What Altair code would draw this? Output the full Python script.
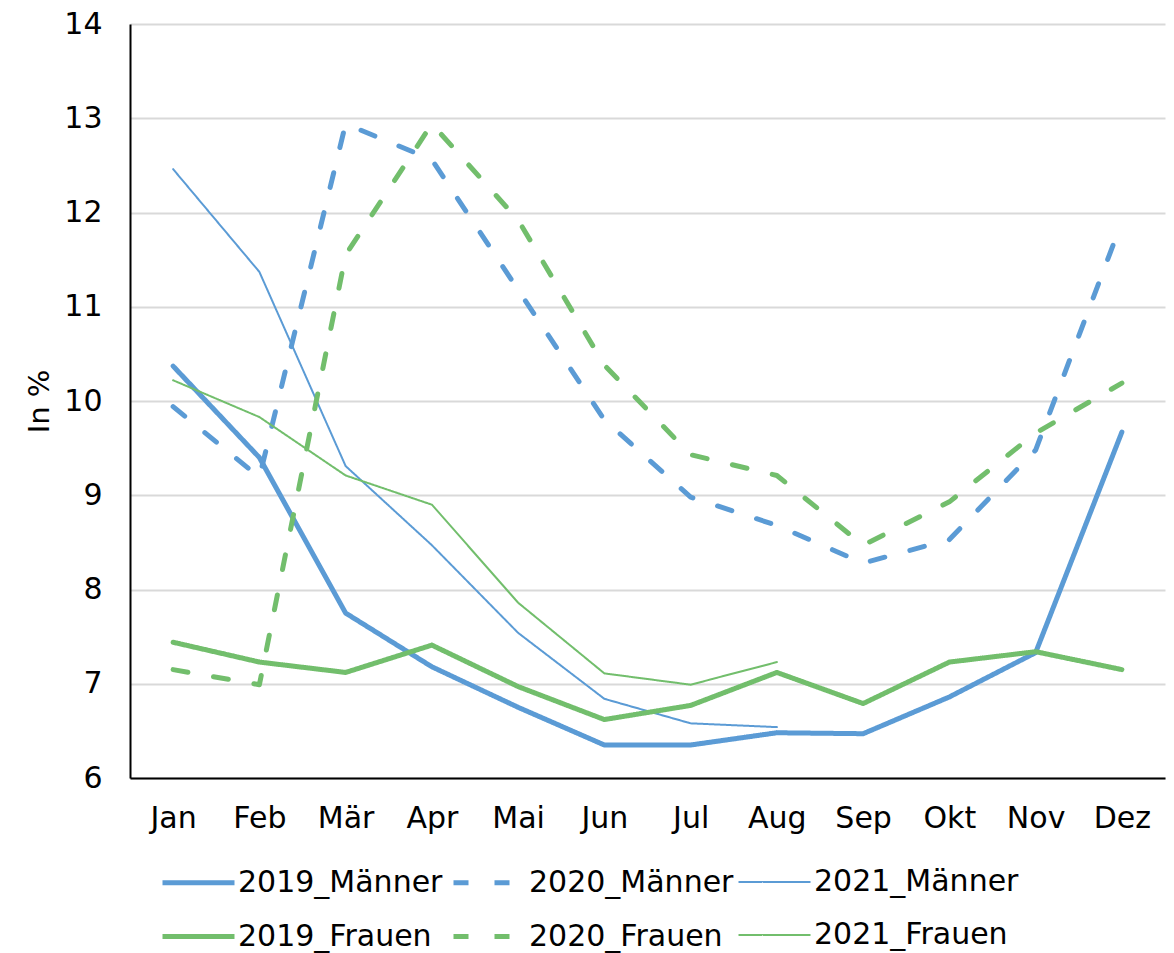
import altair as alt
import pandas as pd

months = ["Jan", "Feb", "Mär", "Apr", "Mai", "Jun", "Jul", "Aug", "Sep", "Okt", "Nov", "Dez"]

m2019 = [10.37, 9.40, 7.75, 7.18, 6.75, 6.35, 6.35, 6.48, 6.47, 6.86, 7.33, 9.67]
m2020 = [9.94, 9.19, 12.94, 12.56, 11.18, 9.80, 8.98, 8.68, 8.28, 8.53, 9.48, 11.90]
m2021 = [12.46, 11.37, 9.31, 8.47, 7.54, 6.84, 6.58, 6.54]
f2019 = [7.44, 7.23, 7.12, 7.41, 6.97, 6.62, 6.77, 7.12, 6.79, 7.23, 7.34, 7.15]
f2020 = [7.15, 6.99, 11.55, 12.94, 11.92, 10.38, 9.43, 9.21, 8.47, 8.93, 9.66, 10.19]
f2021 = [10.22, 9.83, 9.21, 8.90, 7.86, 7.11, 6.99, 7.23]

series_names = ["2019_Männer", "2020_Männer", "2021_Männer",
                "2019_Frauen", "2020_Frauen", "2021_Frauen"]
series_values = [m2019, m2020, m2021, f2019, f2020, f2021]

BLUE = "#5B9BD5"
GREEN = "#72BE6C"
colors = [BLUE, BLUE, BLUE, GREEN, GREEN, GREEN]
dashes = [[1, 0], [15, 26], [1, 0], [1, 0], [15, 26], [1, 0]]
widths = [5, 5, 2, 5, 5, 2]

rows = []
for name, vals in zip(series_names, series_values):
    for m, v in zip(months, vals):
        rows.append({"month": m, "value": v, "series": name})
df = pd.DataFrame(rows)

FONT = "DejaVu Sans"

legend = alt.Legend(
    title=None, orient="none", legendX=30, legendY=820,
    direction="horizontal", columns=3, symbolType="stroke",
    symbolSize=5184, labelFontSize=30, labelFont=FONT, labelColor="black",
    columnPadding=0, rowPadding=-14, labelOffset=1, labelLimit=400,
)

base = alt.Chart(df).mark_line(strokeCap="round", strokeJoin="round").encode(
    x=alt.X("month:N", sort=months, title=None,
            scale=alt.Scale(domain=months, paddingInner=0, paddingOuter=0.5),
            axis=alt.Axis(labelAngle=0, ticks=False, grid=False, labelPadding=25,
                          domainColor="black", domainWidth=2,
                          labelFontSize=30, labelFont=FONT, labelColor="black")),
    y=alt.Y("value:Q", title="In %",
            scale=alt.Scale(domain=[6, 14], nice=False, zero=False),
            axis=alt.Axis(values=[6, 7, 8, 9, 10, 11, 12, 13, 14], ticks=False,
                          labelPadding=28, domainColor="black", domainWidth=2,
                          grid=True, gridColor="#D9D9D9", gridWidth=2,
                          labelFontSize=30, labelFont=FONT, labelColor="black",
                          titleFontSize=29, titleFont=FONT, titleFontWeight="normal",
                          titleColor="black", titleX=-91, titleY=377,
                          titleAlign="center", titleBaseline="middle")),
    color=alt.Color("series:N", scale=alt.Scale(domain=series_names, range=colors), legend=legend),
    strokeDash=alt.StrokeDash("series:N", scale=alt.Scale(domain=series_names, range=dashes), legend=legend),
    strokeWidth=alt.StrokeWidth("series:N", scale=alt.Scale(type="ordinal", domain=series_names, range=widths), legend=legend),
)

layers = [base.transform_filter(alt.datum.series == s) for s in series_names]

chart = alt.layer(*layers).properties(
    width=1035, height=754,
    autosize=alt.AutoSizeParams(type="none"),
    padding={"left": 122, "top": 16, "right": 1, "bottom": 175},
).configure_view(stroke=None)

chart.save("out.html", embed_options={"renderer": "svg", "actions": False})
